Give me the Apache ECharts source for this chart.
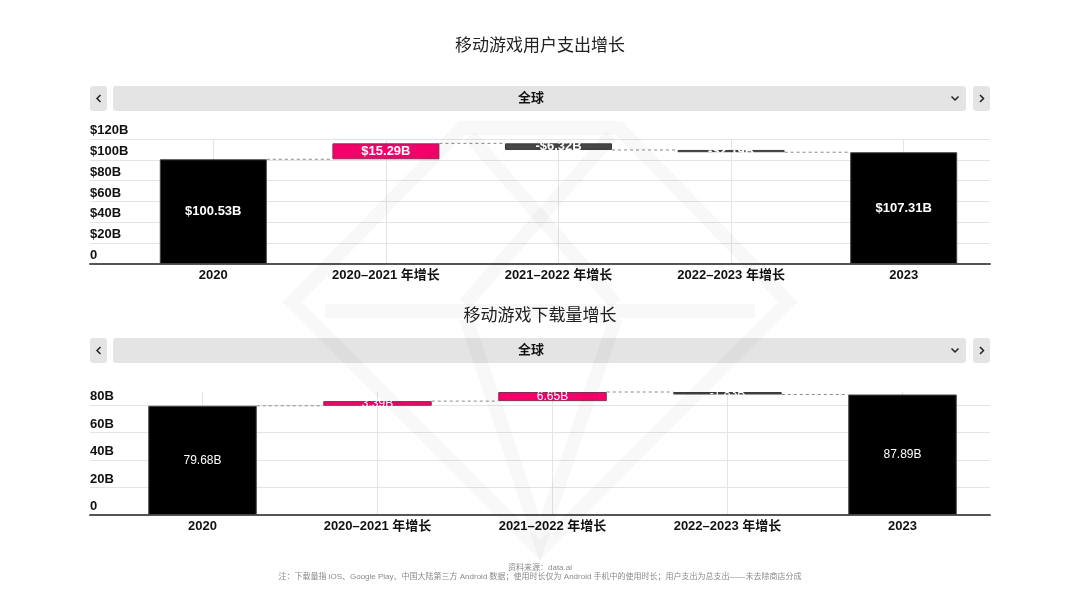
<!DOCTYPE html>
<html>
<head>
<meta charset="utf-8">
<script src="https://cdn.jsdelivr.net/npm/echarts@6/dist/echarts.min.js"></script>
<style>html,body{margin:0;padding:0;background:#fff;}#c{width:1080px;height:608px;}</style>
</head>
<body>
<div id="c"></div>
<script>
const categories = ['2020', '2020–2021 年增长', '2021–2022 年增长', '2022–2023 年增长', '2023'];
const isTotal = [true, false, false, false, true];
const spendValues = [100.53, 15.29, -6.32, -2.19, 107.31];
const downloadValues = [79.68, 3.39, 6.65, -1.83, 87.89];
const spendTicks = [0, 20, 40, 60, 80, 100, 120];
const downloadTicks = [0, 20, 40, 60, 80];
const region = '全球';

const FONT = '"Liberation Sans", "Noto Sans CJK SC", sans-serif';
const PINK = '#f5006a', DARK = '#474747', BLACK = '#000000';

function waterfall(values) {
  const base = [], bar = [], level = [];
  let cum = 0;
  values.forEach((v, i) => {
    if (isTotal[i]) { base.push(0); bar.push(v); cum = v; }
    else if (v >= 0) { base.push(cum); bar.push(v); cum += v; }
    else { cum += v; base.push(cum); bar.push(-v); }
    level.push(+cum.toFixed(2));
  });
  const top = Math.max(...base.map((b, i) => b + bar[i]));
  return { base, bar, level, top };
}
const W1 = waterfall(spendValues);
const W2 = waterfall(downloadValues);

function colorOf(values, i) {
  if (isTotal[i]) return BLACK;
  return values[i] >= 0 ? PINK : DARK;
}

function fmtSpend(v) { return (v < 0 ? '-$' : '$') + Math.abs(v).toFixed(2) + 'B'; }
function fmtDl(v) { return (v < 0 ? '-' : '') + Math.abs(v).toFixed(2) + 'B'; }

function barSeries(W, values, xi, yi, fmt, bold, fs) {
  return [
    { type: 'bar', xAxisIndex: xi, yAxisIndex: yi, stack: 's' + xi, barWidth: '62%',
      itemStyle: { color: 'transparent' }, data: W.base, silent: true, z: 2 },
    { type: 'bar', xAxisIndex: xi, yAxisIndex: yi, stack: 's' + xi, barWidth: '62%', z: 3,
      data: W.bar.map((v, i) => ({ value: v, itemStyle: { color: colorOf(values, i),
        borderColor: isTotal[i] ? '#444' : (values[i] >= 0 ? '#8c2a4e' : '#3a3a3a'), borderWidth: 1 } })),
      label: { show: true, position: 'inside', color: '#fff', fontFamily: FONT,
        fontSize: fs, fontWeight: bold ? 'bold' : 'normal',
        formatter: p => fmt(values[p.dataIndex]) } },
    { type: 'custom', xAxisIndex: xi, yAxisIndex: yi, z: 1, silent: true,
      data: W.level.slice(0, W.level.length - 1).map((lv, i) => [i, lv]),
      renderItem: function (params, api) {
        const i = api.value(0), lv = api.value(1);
        const p1 = api.coord([i, lv]);
        const p2 = api.coord([i + 1, lv]);
        const bw = api.size([1, 0])[0] * 0.62;
        return { type: 'line', shape: { x1: p1[0] + bw / 2, y1: p1[1], x2: p2[0] - bw / 2, y2: p2[1] },
          style: { stroke: '#8a8a8a', lineWidth: 1, lineDash: [3, 3] } };
      } }
  ];
}

function axisGridX(gi) {
  return { gridIndex: gi, type: 'value', min: 0, max: 1,
    axisLine: { show: true, lineStyle: { color: '#555', width: 2 } },
    axisTick: { show: false }, axisLabel: { show: false }, splitLine: { show: false } };
}
function catX(gi) {
  return { gridIndex: gi, type: 'category', data: categories,
    axisLine: { show: false }, axisTick: { show: false },
    axisLabel: { color: '#111', fontFamily: FONT, fontSize: 13, fontWeight: 'bold', margin: 5 },
    splitLine: { show: true, alignWithLabel: true, lineStyle: { color: '#e4e4e4', width: 1 } } };
}
function valY(gi, max, fmt, showMax) {
  return { gridIndex: gi, type: 'value', min: 0, max: max, interval: 20,
    axisLine: { show: false }, axisTick: { show: false },
    axisLabel: { inside: true, align: 'left', verticalAlign: 'bottom', margin: 0,
      padding: [0, 0, 2, 0], showMaxLabel: showMax,
      color: '#111', fontFamily: FONT, fontSize: 13, fontWeight: 'bold', formatter: fmt },
    splitLine: { show: true, showMaxLine: showMax, lineStyle: { color: '#e4e4e4', width: 1 } } };
}
function hiddenY(gi, max) {
  return { gridIndex: gi, type: 'value', min: 0, max: max, show: false, splitLine: { show: false } };
}

function selector(y) {
  const g = [];
  g.push({ type: 'rect', shape: { x: 90, y: y, width: 17, height: 25, r: 3 }, style: { fill: '#e4e4e4' } });
  g.push({ type: 'rect', shape: { x: 113, y: y, width: 853, height: 25, r: 3 }, style: { fill: '#e4e4e4' } });
  g.push({ type: 'rect', shape: { x: 973, y: y, width: 17, height: 25, r: 3 }, style: { fill: '#e4e4e4' } });
  g.push({ type: 'polyline', shape: { points: [[100.5, y + 9], [97, y + 12.5], [100.5, y + 16]] },
    style: { stroke: '#222', lineWidth: 1.5, fill: null } });
  g.push({ type: 'polyline', shape: { points: [[980, y + 9], [983.5, y + 12.5], [980, y + 16]] },
    style: { stroke: '#222', lineWidth: 1.5, fill: null } });
  g.push({ type: 'polyline', shape: { points: [[951.5, y + 10.5], [955, y + 14], [958.5, y + 10.5]] },
    style: { stroke: '#222', lineWidth: 1.5, fill: null } });
  g.push({ type: 'text', x: 531, y: y + 12.5, style: { text: region, fill: '#111', font: 'bold 13px ' + FONT,
    textAlign: 'center', textVerticalAlign: 'middle' } });
  return g;
}

const wmStyle = { stroke: 'rgba(0,0,0,0.028)', lineWidth: 14, fill: null, lineJoin: 'miter' };
const watermark = [
  { type: 'polygon', z: 100, silent: true, shape: { points: [[462, 128], [619, 128], [788, 302], [540, 550], [292, 302]] }, style: wmStyle },
  { type: 'polyline', z: 100, silent: true, shape: { points: [[325, 311], [755, 311]] }, style: wmStyle },
  { type: 'polyline', z: 100, silent: true, shape: { points: [[470, 136], [616, 304]] }, style: wmStyle },
  { type: 'polyline', z: 100, silent: true, shape: { points: [[611, 136], [465, 304]] }, style: wmStyle },
  { type: 'polyline', z: 100, silent: true, shape: { points: [[466, 318], [540, 540], [616, 318]] }, style: wmStyle }
];

const chart = echarts.init(document.getElementById('c'), null, { renderer: 'canvas' });
chart.setOption({
  animation: false,
  backgroundColor: '#fff',
  title: [
    { text: '移动游戏用户支出增长', left: 'center', top: 33, textStyle: { fontFamily: FONT, fontSize: 17, fontWeight: 'normal', color: '#222' } },
    { text: '移动游戏下载量增长', left: 'center', top: 303, textStyle: { fontFamily: FONT, fontSize: 17, fontWeight: 'normal', color: '#222' } }
  ],
  grid: [
    { left: 90, right: 90, top: 139, bottom: 344 },
    { left: 127, right: 90, top: 139, bottom: 344 },
    { left: 90, right: 90, top: 392, bottom: 93 },
    { left: 115, right: 90, top: 392, bottom: 93 }
  ],
  xAxis: [axisGridX(0), catX(1), axisGridX(2), catX(3)],
  yAxis: [
    valY(0, spendTicks[spendTicks.length - 1], v => v === 0 ? '0' : '$' + v + 'B', true),
    hiddenY(1, spendTicks[spendTicks.length - 1]),
    valY(2, W2.top, v => v === 0 ? '0' : v + 'B', false),
    hiddenY(3, W2.top)
  ],
  series: [].concat(
    barSeries(W1, spendValues, 1, 1, fmtSpend, true, 13),
    barSeries(W2, downloadValues, 3, 3, fmtDl, false, 12)
  ),
  graphic: [].concat(selector(86), selector(338), watermark, [
    { type: 'text', x: 540, y: 568, style: { text: '资料来源：data.ai', fill: '#8a8a8a', font: '8px ' + FONT, textAlign: 'center', textVerticalAlign: 'middle' } },
    { type: 'text', x: 540, y: 577, style: { text: '注：下载量指 iOS、Google Play、中国大陆第三方 Android 数据；使用时长仅为 Android 手机中的使用时长；用户支出为总支出——未去除商店分成', fill: '#8a8a8a', font: '8px ' + FONT, textAlign: 'center', textVerticalAlign: 'middle' } }
  ])
});
</script>
</body>
</html>
